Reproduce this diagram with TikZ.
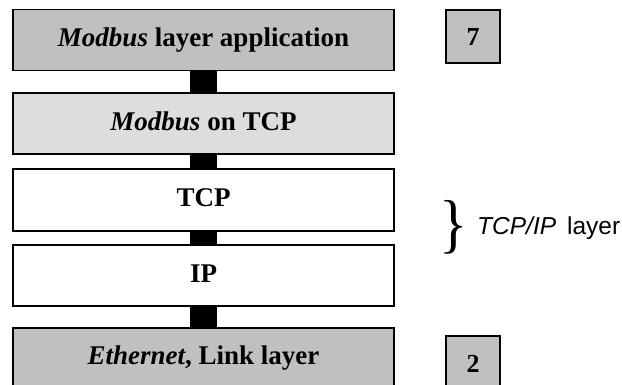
\documentclass[tikz,border=0pt]{standalone}
\usepackage{fontspec}
\setmainfont{Liberation Serif}
\newfontfamily\labelsans{Liberation Sans}
\definecolor{layergray}{HTML}{C0C0C0}
\definecolor{layerlight}{HTML}{DDDDDD}
\begin{document}
\begin{tikzpicture}[x=1pt,y=-1pt,
  layer/.style={draw=black, line width=1.6pt, minimum width=381pt,
    minimum height=61pt, inner sep=0pt,
    font=\fontsize{27}{30}\selectfont\bfseries,
    text height=19pt, text depth=5pt},
  numbox/.style={draw=black, line width=1.6pt, fill=layergray,
    minimum width=54pt, minimum height=53pt, inner sep=0pt,
    font=\fontsize{26}{30}\selectfont\bfseries},
  link/.style={line width=27pt, black}]
\useasboundingbox (0,0) rectangle (622,385);
\clip (0,0) rectangle (622,385);
\fill[white] (0,0) rectangle (622,385);

% protocol stack
\node[layer, fill=layergray]  (app)  at (203.5,40)    {\textit{Modbus} layer application};
\node[layer, fill=layerlight] (mtcp) at (203.5,123.5) {\textit{Modbus} on TCP};
\node[layer, fill=white, minimum height=62pt] (tcp) at (203.5,200) {TCP};
\node[layer, fill=white] (ip) at (203.5,275.5) {IP};
\node[layer, fill=layergray, minimum height=58pt] (eth) at (203.5,357) {\textit{Ethernet}, Link layer};

% links between the layers
\draw[link] (app.south) -- (mtcp.north);
\draw[link] (mtcp.south) -- (tcp.north);
\draw[link] (tcp.south) -- (ip.north);
\draw[link] (ip.south) -- (eth.north);

% OSI layer numbers
\node[numbox] (n7) at (473,36.5) {7};
\node[numbox, minimum height=55pt] (n2) at (473,363.5) {2};

% TCP/IP grouping
\node[inner sep=0pt, anchor=base, font=\fontsize{59}{60}\selectfont] (brace) at (454,245.4) {\scalebox{1}[1.1]{\}}};
\node[inner sep=0pt, anchor=base west, font=\labelsans\fontsize{24.5}{28}\selectfont] (tcpip) at (477,235) {\textit{TCP/IP}\hspace{11pt}layer};
\end{tikzpicture}
\end{document}
